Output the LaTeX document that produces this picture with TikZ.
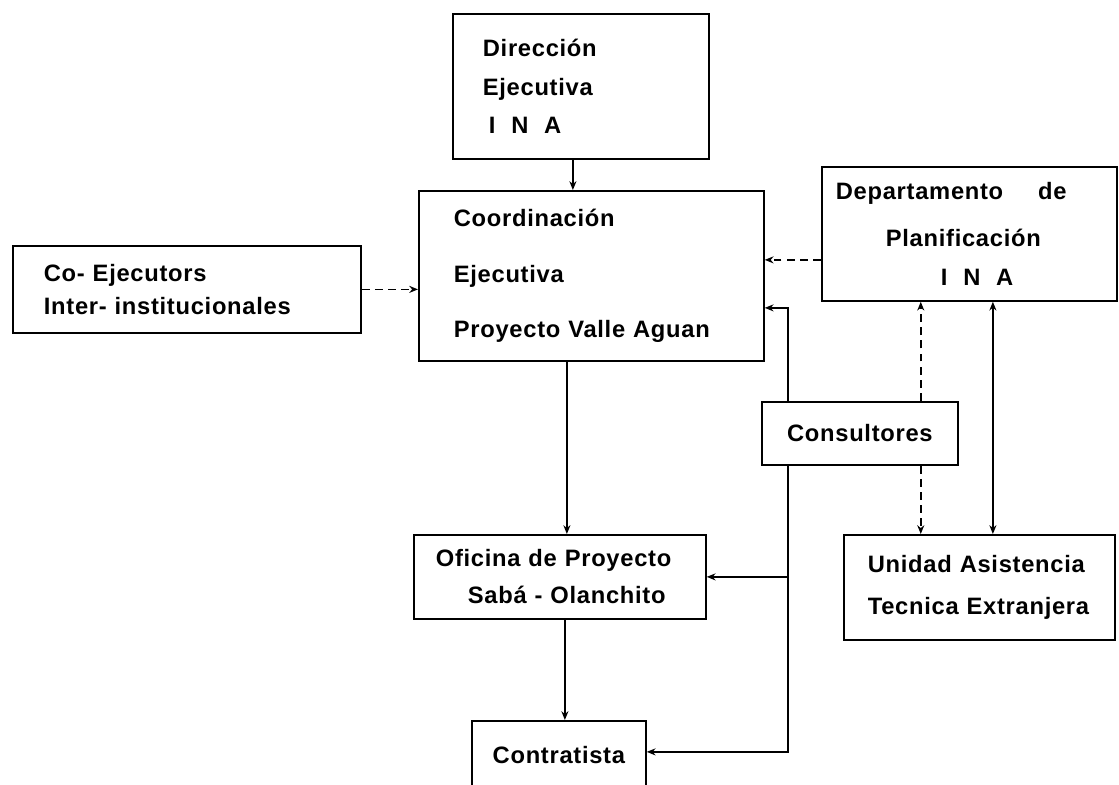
\documentclass[tikz,border=0pt]{standalone}
\usepackage{fontspec}
\setmainfont{Liberation Sans}[LetterSpace=3]
\usetikzlibrary{arrows.meta}

\begin{document}
\begin{tikzpicture}[
  font=\fontsize{13.5}{16}\selectfont\bfseries,
  >={Stealth[length=5pt,width=4pt]},
  box/.style={draw, line width=1pt, anchor=north west, inner ysep=0pt, align=left},
  link/.style={->, line width=.9pt},
  dlink/.style={->, line width=.9pt, dash pattern=on 4.5pt off 3pt}
]

% Canvas
\useasboundingbox (0,0) rectangle (22.38,-15.68);
\fill[white] (0,0) rectangle (22.38,-15.68);
\clip (0,0) rectangle (22.38,-15.68);

% Boxes
\node[box, minimum width=5.12cm, minimum height=2.90cm, inner xsep=.6cm, text width=3.92cm] (dir) at (9.04,-0.26)
  {Dirección\\[6pt]Ejecutiva\\[6pt]\hspace*{.12cm}I~~N~~A};
\node[box, minimum width=6.90cm, minimum height=3.40cm, inner xsep=.7cm, text width=5.50cm] (coord) at (8.36,-3.80)
  {Coordinación\\[15.5pt]Ejecutiva\\[15.5pt]Proyecto~Valle~Aguan};
\node[box, minimum width=6.96cm, minimum height=1.74cm, inner xsep=.62cm, text width=5.72cm] (coej) at (0.24,-4.90)
  {Co-~Ejecutors\\[3pt]Inter-~institucionales};
\node[box, minimum width=5.90cm, minimum height=2.68cm, inner xsep=.28cm, text width=5.34cm] (depto) at (16.42,-3.32)
  {Departamento\hspace{.7cm}de\\[11pt]\hspace*{1.0cm}Planificación\\[6pt]\hspace*{2.1cm}I~~N~~A};
\node[box, minimum width=3.92cm, minimum height=1.26cm, align=center] (cons) at (15.22,-8.02) {Consultores};
\node[box, minimum width=5.42cm, minimum height=2.10cm, inner xsep=.2cm, text width=5.02cm] (unid) at (16.86,-10.68)
  {\hspace*{.28cm}Unidad~Asistencia\\[8.4pt]\hspace*{.28cm}Tecnica~Extranjera};
\node[box, minimum width=5.84cm, minimum height=1.68cm, inner xsep=.44cm, text width=4.96cm] (ofic) at (8.26,-10.68)
  {Oficina~de~Proyecto\\[5pt]\hspace*{.64cm}Sabá~-~Olanchito};
\node[box, minimum width=3.48cm, minimum height=1.36cm, align=center] (contr) at (9.42,-14.40) {Contratista};

% Edges (line of command)
\draw[link] ([xshift=-.16cm]dir.south) -- ([xshift=-.16cm]dir.south |- coord.north);
\draw[link] ([xshift=-.49cm]coord.south) -- ([xshift=-.49cm]coord.south |- ofic.north);
\draw[link] ([xshift=.1cm]ofic.south) -- ([xshift=.1cm]ofic.south |- contr.north);

% Edges (coordination, dashed)
\draw[dlink] (coej.east) -- (coej.east -| coord.west);
\draw[dlink] ([yshift=-.52cm]depto.west) -- ([yshift=-.52cm]depto.west -| coord.east);
\draw[dlink] ([xshift=-.76cm]cons.north east) -- ([xshift=-.76cm]cons.north east |- depto.south);
\draw[dlink] ([xshift=-.76cm]cons.south east) -- ([xshift=-.76cm]cons.south east |- unid.north);

% Edges (consultores)
\draw[link] ([xshift=.54cm]cons.north west) |- ([yshift=-.64cm]coord.east);
\draw[link] ([xshift=.54cm]cons.south west) |- ([yshift=.06cm]contr.east);
\draw[link] ([xshift=.54cm]cons.south west |- ofic.east) -- (ofic.east);

% Departamento <-> Unidad
\draw[link, <->] ([xshift=.47cm]depto.south) -- ([xshift=.47cm]depto.south |- unid.north);

\end{tikzpicture}
\end{document}
